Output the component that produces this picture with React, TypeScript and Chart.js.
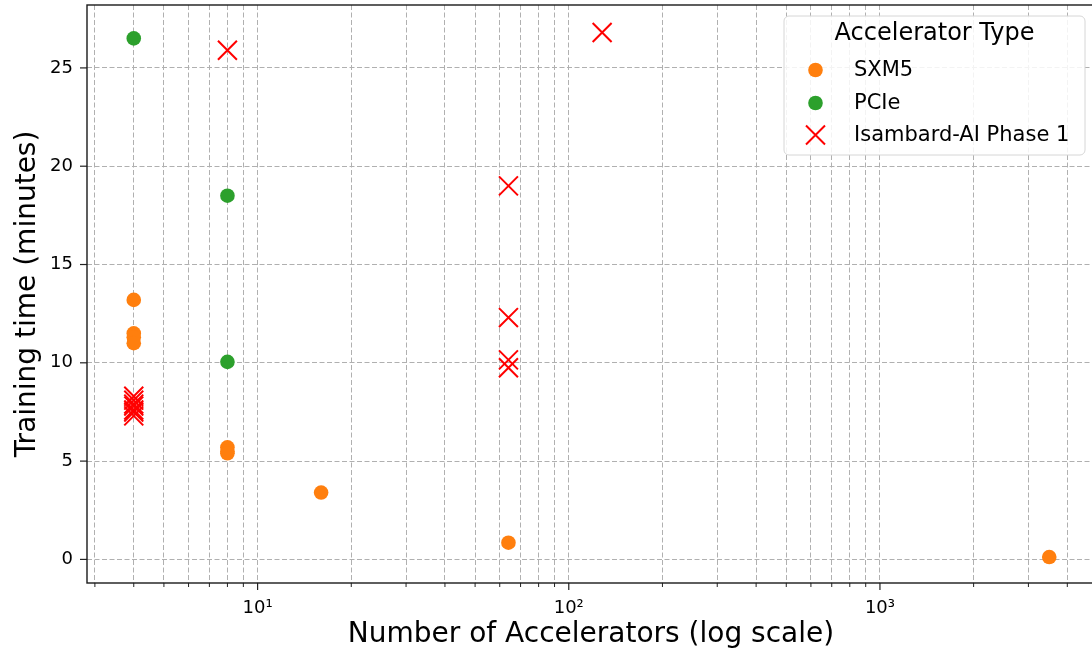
import { useEffect, useRef } from 'react';
import { Chart, registerables } from 'chart.js';

Chart.register(...registerables);

// ---- data ----
const sxm5X = [4, 4, 4, 4, 8, 8, 8, 16, 64, 3500];
const sxm5Y = [13.2, 11.5, 11.3, 11.0, 5.7, 5.5, 5.4, 3.4, 0.85, 0.12];

const pcieX = [4, 8, 8];
const pcieY = [26.5, 18.5, 10.05];

const isambardX = [4, 4, 4, 4, 4, 4, 4, 8, 64, 64, 64, 64, 128];
const isambardY = [8.3, 8.1, 7.9, 7.8, 7.6, 7.5, 7.3, 25.9, 19.0, 12.3, 10.15, 9.75, 26.8];

const seriesLabels = ['SXM5', 'PCIe', 'Isambard-AI Phase 1'];
const seriesColors = ['#ff7f0e', '#2ca02c', '#ff0000'];
const legendTitle = 'Accelerator Type';

const xTickValues = [
  3, 4, 5, 6, 7, 8, 9,
  10, 20, 30, 40, 50, 60, 70, 80, 90,
  100, 200, 300, 400, 500, 600, 700, 800, 900,
  1000, 2000, 3000, 4000,
];
const xMajorValues = [10, 100, 1000];
const xMajorLabels = ['10¹', '10²', '10³'];
const yTickValues = [0, 5, 10, 15, 20, 25];

const xTitle = 'Number of Accelerators (log scale)';
const yTitle = 'Training time (minutes)';

const FONT = '"DejaVu Sans", "Liberation Sans", sans-serif';

const toPoints = (xs: number[], ys: number[]) => xs.map((x, i) => ({ x, y: ys[i] }));

const axesPlugin = {
  id: 'mplAxes',
  afterDatasetsDraw(chart: any) {
    const { ctx, chartArea } = chart;
    const xs = chart.scales.x;
    const ys = chart.scales.y;
    ctx.save();
    ctx.strokeStyle = '#222';
    // x ticks
    xTickValues.forEach((v) => {
      const px = xs.getPixelForValue(v);
      if (px < chartArea.left - 0.5 || px > chartArea.right + 0.5) return;
      const major = xMajorValues.includes(v);
      ctx.lineWidth = major ? 1.2 : 1;
      ctx.beginPath();
      ctx.moveTo(px, chartArea.bottom);
      ctx.lineTo(px, chartArea.bottom + (major ? 7 : 4));
      ctx.stroke();
    });
    // y ticks
    yTickValues.forEach((v) => {
      const py = ys.getPixelForValue(v);
      ctx.lineWidth = 1.2;
      ctx.beginPath();
      ctx.moveTo(chartArea.left - 7, py);
      ctx.lineTo(chartArea.left, py);
      ctx.stroke();
    });
    // spines
    ctx.lineWidth = 1.4;
    ctx.strokeStyle = '#1a1a1a';
    ctx.strokeRect(chartArea.left, chartArea.top, chartArea.right - chartArea.left, chartArea.bottom - chartArea.top);
    ctx.restore();
  },
};

const legendPlugin = {
  id: 'mplLegend',
  afterDatasetsDraw(chart: any) {
    const { ctx, chartArea } = chart;
    const w = 301;
    const h = 139;
    const x = chartArea.right - 10 - w;
    const y = chartArea.top + 11;
    const r = 5;
    ctx.save();
    ctx.beginPath();
    ctx.moveTo(x + r, y);
    ctx.lineTo(x + w - r, y);
    ctx.arcTo(x + w, y, x + w, y + r, r);
    ctx.lineTo(x + w, y + h - r);
    ctx.arcTo(x + w, y + h, x + w - r, y + h, r);
    ctx.lineTo(x + r, y + h);
    ctx.arcTo(x, y + h, x, y + h - r, r);
    ctx.lineTo(x, y + r);
    ctx.arcTo(x, y, x + r, y, r);
    ctx.closePath();
    ctx.fillStyle = 'rgba(255,255,255,0.85)';
    ctx.fill();
    ctx.strokeStyle = '#d6d6d6';
    ctx.lineWidth = 1;
    ctx.stroke();

    ctx.fillStyle = '#000';
    ctx.textBaseline = 'middle';
    ctx.textAlign = 'center';
    ctx.font = `24px ${FONT}`;
    ctx.fillText(legendTitle, x + w / 2, y + 18);

    const rows = [y + 54, y + 87, y + 119];
    const mx = x + 31.5;
    chart.data.datasets.forEach((ds: any, i: number) => {
      const cy = rows[i];
      if (ds.pointStyle === 'crossRot') {
        ctx.strokeStyle = ds.borderColor;
        ctx.lineWidth = 2;
        const d = 9.5;
        ctx.beginPath();
        ctx.moveTo(mx - d, cy - d);
        ctx.lineTo(mx + d, cy + d);
        ctx.moveTo(mx + d, cy - d);
        ctx.lineTo(mx - d, cy + d);
        ctx.stroke();
      } else {
        ctx.fillStyle = ds.backgroundColor;
        ctx.beginPath();
        ctx.arc(mx, cy, 7.3, 0, Math.PI * 2);
        ctx.fill();
      }
      ctx.fillStyle = '#000';
      ctx.textAlign = 'left';
      ctx.font = `21px ${FONT}`;
      ctx.fillText(ds.label, x + 70, cy + 1);
    });
    ctx.restore();
  },
};

export default function App() {
  const ref = useRef<HTMLCanvasElement>(null);

  useEffect(() => {
    if (!ref.current) return;
    const gridCommon = { color: '#b0b0b0', lineWidth: 1, drawTicks: false };
    const borderCommon = { display: false, dash: [5, 2.5] };
    const chart = new Chart(ref.current, {
      type: 'scatter',
      data: {
        datasets: [
          {
            label: seriesLabels[0],
            data: toPoints(sxm5X, sxm5Y),
            pointStyle: 'circle',
            backgroundColor: seriesColors[0],
            borderColor: seriesColors[0],
            borderWidth: 0,
            pointRadius: 7.3,
            order: 3,
          },
          {
            label: seriesLabels[1],
            data: toPoints(pcieX, pcieY),
            pointStyle: 'circle',
            backgroundColor: seriesColors[1],
            borderColor: seriesColors[1],
            borderWidth: 0,
            pointRadius: 7.3,
            order: 2,
          },
          {
            label: seriesLabels[2],
            data: toPoints(isambardX, isambardY),
            pointStyle: 'crossRot',
            backgroundColor: seriesColors[2],
            borderColor: seriesColors[2],
            borderWidth: 2,
            pointRadius: 13.4,
            order: 1,
          },
        ],
      } as any,
      options: {
        animation: false,
        responsive: false,
        events: [],
        layout: { autoPadding: false, padding: { left: 0, top: 5, right: 15, bottom: 0 } },
        plugins: {
          legend: { display: false },
          tooltip: { enabled: false },
          title: { display: false },
        },
        scales: {
          x: {
            type: 'logarithmic',
            position: 'bottom',
            min: 2.83,
            max: 4910,
            afterBuildTicks: (s: any) => {
              s.ticks = xTickValues.map((v) => ({ value: v }));
            },
            afterFit: (s: any) => {
              s.height = 69;
              s.paddingLeft = 0;
              s.paddingRight = 0;
            },
            ticks: {
              autoSkip: false,
              maxRotation: 0,
              minRotation: 0,
              padding: 15,
              color: '#000',
              font: { family: FONT, size: 18 },
              callback: (v: any) => {
                const idx = xMajorValues.indexOf(Number(v));
                return idx >= 0 ? xMajorLabels[idx] : '';
              },
            },
            grid: gridCommon,
            border: borderCommon,
            title: {
              display: true,
              text: xTitle,
              color: '#000',
              font: { family: FONT, size: 28 },
              padding: { top: 0, bottom: 0 },
            },
          },
          y: {
            type: 'linear',
            min: -1.2,
            max: 28.2,
            afterBuildTicks: (s: any) => {
              s.ticks = yTickValues.map((v) => ({ value: v }));
            },
            afterFit: (s: any) => {
              s.width = 87;
              s.paddingTop = 0;
              s.paddingBottom = 0;
            },
            ticks: {
              padding: 14,
              color: '#000',
              font: { family: FONT, size: 18 },
              callback: (v: any) => String(v),
            },
            grid: gridCommon,
            border: borderCommon,
            title: {
              display: true,
              text: yTitle,
              color: '#000',
              font: { family: FONT, size: 28 },
              padding: { top: 11, bottom: 0 },
            },
          },
        },
      } as any,
      plugins: [axesPlugin, legendPlugin],
    });
    return () => chart.destroy();
  }, []);

  return (
    <div
      style={{
        position: 'fixed',
        left: 0,
        top: 0,
        width: 1092,
        height: 652,
        overflow: 'hidden',
        background: '#fff',
      }}
    >
      <canvas ref={ref} width={1110} height={652} style={{ display: 'block', width: 1110, height: 652 }} />
    </div>
  );
}
